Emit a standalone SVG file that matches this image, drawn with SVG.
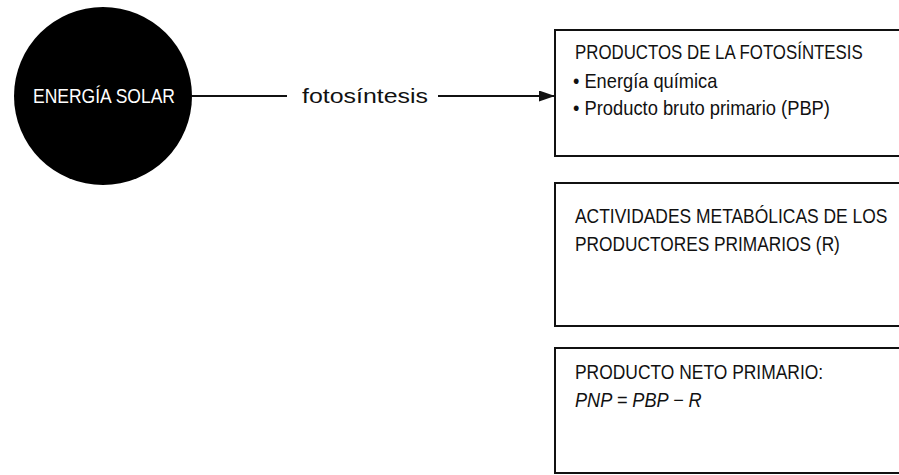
<svg xmlns="http://www.w3.org/2000/svg" width="899" height="475" viewBox="0 0 899 475">
<defs>
<style>
.t{font-family:"Liberation Sans",Arial,sans-serif;font-size:20px;fill:#111}
.box{fill:none;stroke:#111;stroke-width:2}
.ln{stroke:#111;stroke-width:2;fill:none}
</style>
<marker id="arr" markerWidth="16" markerHeight="11" refX="16" refY="5.5" orient="auto" markerUnits="userSpaceOnUse">
<path d="M0,0 L16,5.5 L0,11 Z" fill="#111"/>
</marker>
</defs>
<rect width="899" height="475" fill="#fff"/>
<g id="connectors">
<line class="ln" x1="192" y1="96" x2="287" y2="96"/>
<line class="ln" x1="438" y1="96" x2="555" y2="96" marker-end="url(#arr)"/>
<text class="t" x="302" y="103" font-size="28" textLength="126" lengthAdjust="spacingAndGlyphs">fotosíntesis</text>
</g>
<g id="energia-solar">
<circle cx="103" cy="96" r="89" fill="#000"/>
<text class="t" x="33" y="103" style="font-size:21px;fill:#fff" textLength="142" lengthAdjust="spacingAndGlyphs">ENERGÍA SOLAR</text>
</g>
<g id="productos-fotosintesis">
<path class="box" d="M899,30 H555 V156 H899"/>
<g transform="translate(575,0) scale(0.88,1)">
<text class="t" x="0" y="59" textLength="327" lengthAdjust="spacingAndGlyphs">PRODUCTOS DE LA FOTOSÍNTESIS</text>
<text class="t" x="-2.3" y="88" textLength="164" lengthAdjust="spacingAndGlyphs">• Energía química</text>
<text class="t" x="-2.3" y="115" textLength="292" lengthAdjust="spacingAndGlyphs">• Producto bruto primario (PBP)</text>
</g>
</g>
<g id="actividades-metabolicas">
<path class="box" d="M899,183 H555 V326 H899"/>
<g transform="translate(575,0) scale(0.88,1)">
<text class="t" x="0" y="223" textLength="355" lengthAdjust="spacingAndGlyphs">ACTIVIDADES METABÓLICAS DE LOS</text>
<text class="t" x="0" y="251" textLength="301" lengthAdjust="spacingAndGlyphs">PRODUCTORES PRIMARIOS (R)</text>
</g>
</g>
<g id="producto-neto">
<path class="box" d="M899,348 H555 V473 H899"/>
<g transform="translate(575,0) scale(0.88,1)">
<text class="t" x="0" y="379" textLength="282" lengthAdjust="spacingAndGlyphs">PRODUCTO NETO PRIMARIO:</text>
<text class="t" x="0" y="407" font-style="italic" textLength="144" lengthAdjust="spacingAndGlyphs">PNP = PBP − R</text>
</g>
</g>
</svg>
